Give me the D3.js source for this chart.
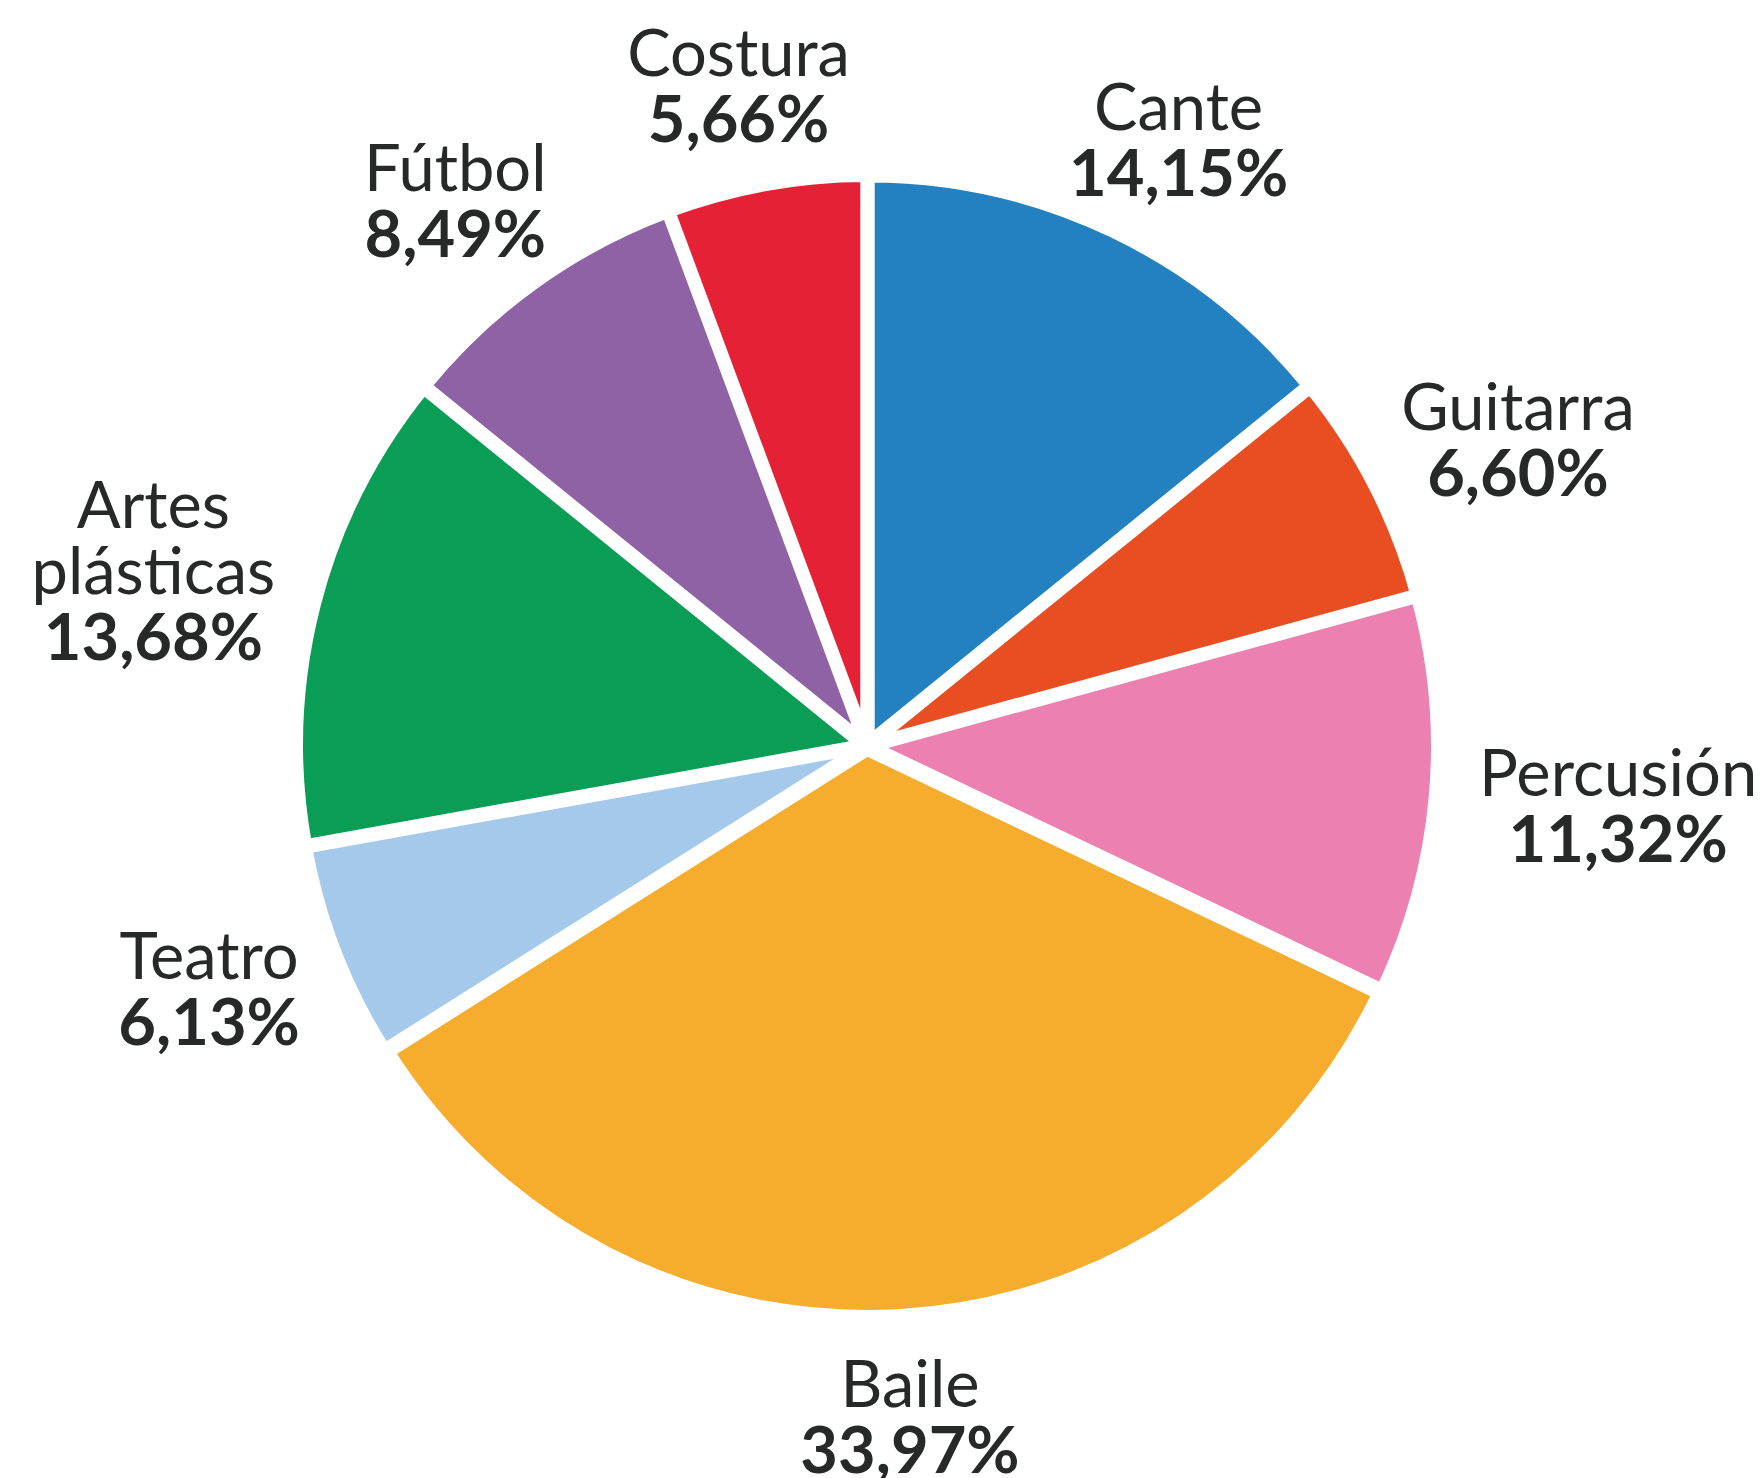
<!DOCTYPE html>
<html>
<head>
<meta charset="utf-8">
<script src="https://cdn.jsdelivr.net/npm/d3@7"></script>
<style>
  html, body { margin: 0; padding: 0; background: #ffffff; }
  svg { display: block; }
</style>
</head>
<body>
<svg id="chart" width="1762" height="1478"></svg>
<script>
// ---- data ----
const categories = ["Cante", "Guitarra", "Percusión", "Baile", "Teatro", "Artes plásticas", "Fútbol", "Costura"];
const values = [14.15, 6.60, 11.32, 33.97, 6.13, 13.68, 8.49, 5.66];
const colors = ["#2481c1", "#e84e22", "#ec80b0", "#f6ac2c", "#a4c9ea", "#0a9d55", "#8e62a4", "#e52135"];

// ---- layout ----
const cx = 867, cy = 746;
const outerR = 566;
const explode = 4;
const strokeW = 12;
const labelR = 615;
const fontSize = 65;
const capH = 0.72 * fontSize;
const lineH = 66;
const textColor = "#262928";

const svg = d3.select("#chart");
const g = svg.append("g").attr("transform", `translate(${cx},${cy})`);

const data = categories.map((c, i) => ({ name: c, value: values[i], color: colors[i] }));
const pie = d3.pie().sort(null).value(d => d.value);
const arcs = pie(data);
const arc = d3.arc().innerRadius(0).outerRadius(outerR);

const fmt = v => v.toFixed(2).replace(".", ",") + "%";

g.selectAll("path.slice")
  .data(arcs)
  .join("path")
  .attr("class", "slice")
  .attr("d", arc)
  .attr("fill", d => d.data.color)
  .attr("stroke", "#ffffff")
  .attr("stroke-width", strokeW)
  .attr("stroke-linejoin", "miter")
  .attr("transform", d => {
    const a = (d.startAngle + d.endAngle) / 2;
    return `translate(${explode * Math.sin(a)},${-explode * Math.cos(a)})`;
  });

// labels
const labels = g.selectAll("g.label")
  .data(arcs)
  .join("g")
  .attr("class", "label");

labels.each(function(d) {
  const sel = d3.select(this);
  const name = d.data.name;
  const lines = name.length > 10 ? name.split(" ") : [name];
  const t = sel.append("text")
    .attr("text-anchor", "middle")
    .attr("fill", textColor)
    .style("font-family", "Lato, 'Open Sans', sans-serif")
    .style("font-size", fontSize + "px");
  lines.forEach((ln, i) => {
    t.append("tspan").attr("x", 0).attr("y", i * lineH).style("font-weight", 400).text(ln);
  });
  t.append("tspan").attr("x", 0).attr("y", lines.length * lineH).style("font-weight", 700).text(fmt(d.data.value));

  const bb = t.node().getBBox();
  // visual block: cap top of first line to baseline of last line
  const top = -capH, bottom = lines.length * lineH;
  const bw = bb.width, bh = bottom - top;
  const a = (d.startAngle + d.endAngle) / 2;
  const ux = Math.sin(a), uy = -Math.cos(a);
  const bcx = labelR * ux + ux * bw / 2;
  const bcy = labelR * uy + uy * bh / 2;
  const ox = bcx;
  const oy = bcy - (top + bottom) / 2;
  sel.attr("transform", `translate(${ox},${oy})`);
});
</script>
</body>
</html>
